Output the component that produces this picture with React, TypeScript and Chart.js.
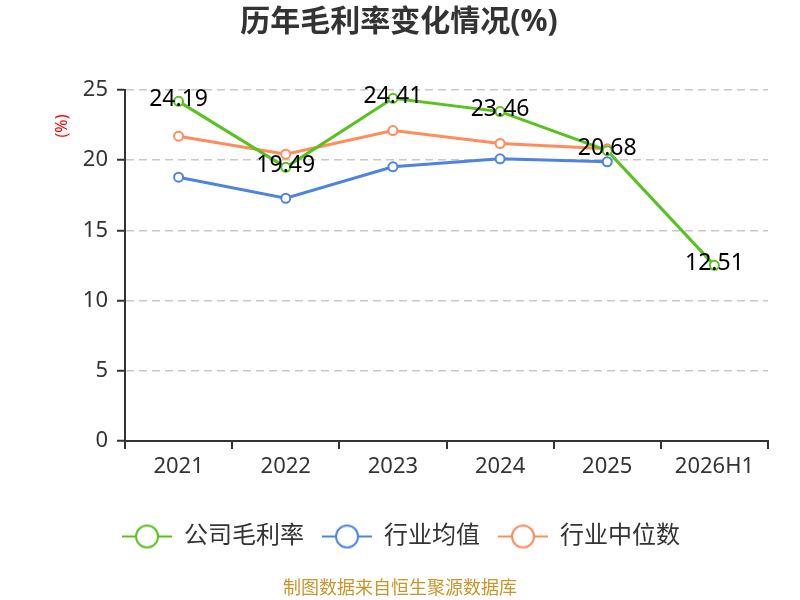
import { useEffect, useRef } from "react"
import { Chart, registerables } from "chart.js"

Chart.register(...registerables)

const years = ["2021", "2022", "2023", "2024", "2025", "2026H1"]
const companyMargin = [24.19, 19.49, 24.41, 23.46, 20.68, 12.51]
const industryAvg = [18.79, 17.29, 19.53, 20.1, 19.89, null]
const industryMedian = [21.71, 20.43, 22.11, 21.19, 20.81, null]
const yTicks = [0, 5, 10, 15, 20, 25]

const GREEN = "#5ac21f"
const BLUE = "#4f83e2"
const ORANGE = "#ff8c5a"
const FONT = "'Noto Sans', 'Noto Sans CJK SC', sans-serif"

// legend marker: short line with a hollow circle in the middle
function legendMarker(color: string) {
  const c = document.createElement("canvas")
  c.width = 50
  c.height = 26
  const g = c.getContext("2d")!
  g.strokeStyle = color
  g.lineWidth = 2
  g.beginPath()
  g.moveTo(0, 13)
  g.lineTo(50, 13)
  g.stroke()
  g.beginPath()
  g.arc(25, 13, 11, 0, Math.PI * 2)
  g.fillStyle = "#fff"
  g.fill()
  g.stroke()
  return c
}

const decorations = {
  id: "decorations",
  afterLayout(chart: Chart) {
    // nudge the legend so it sits centred like the original
    if (chart.legend) chart.legend.left += 34
  },
  afterDatasetsDraw(chart: Chart) {
    const ctx = chart.ctx
    // value labels on the company series
    const meta = chart.getDatasetMeta(0)
    ctx.save()
    ctx.font = `23px ${FONT}`
    ctx.fillStyle = "#000"
    ctx.textAlign = "center"
    ctx.textBaseline = "middle"
    meta.data.forEach((pt, i) => {
      ctx.fillText(companyMargin[i].toFixed(2), pt.x, pt.y - 2)
    })
    ctx.restore()
  },
  afterDraw(chart: Chart) {
    const ctx = chart.ctx
    ctx.save()
    ctx.textAlign = "center"
    ctx.textBaseline = "middle"
    ctx.fillStyle = "#333"
    ctx.font = `bold 30px ${FONT}`
    ctx.fillText("历年毛利率变化情况(%)", 399, 22)

    ctx.fillStyle = "#c8952a"
    ctx.font = `18px ${FONT}`
    ctx.fillText("制图数据来自恒生聚源数据库", 400, 589)

    ctx.translate(62, 126)
    ctx.rotate(-Math.PI / 2)
    ctx.fillStyle = "#ff0000"
    ctx.font = `16px ${FONT}`
    ctx.fillText("(%)", 0, 0)
    ctx.restore()
  },
}

export default function App() {
  const chartRef = useRef<HTMLCanvasElement>(null)
  const chartInstance = useRef<Chart | null>(null)

  useEffect(() => {
    document.body.style.margin = "0"
    if (!chartRef.current) return
    if (chartInstance.current) chartInstance.current.destroy()

    const markers = [legendMarker(GREEN), legendMarker(BLUE), legendMarker(ORANGE)]
    const point = (color: string) => ({
      borderColor: color,
      backgroundColor: color,
      pointBackgroundColor: "#fff",
      pointBorderColor: color,
      pointRadius: 4.5,
      pointBorderWidth: 2,
      borderWidth: 3,
      tension: 0,
    })

    chartInstance.current = new Chart(chartRef.current, {
      type: "line",
      data: {
        labels: years,
        datasets: [
          { label: "公司毛利率", data: companyMargin, ...point(GREEN) },
          { label: "行业均值", data: industryAvg, ...point(BLUE) },
          { label: "行业中位数", data: industryMedian, ...point(ORANGE) },
        ],
      },
      options: {
        animation: false,
        responsive: false,
        maintainAspectRatio: false,
        layout: { padding: { top: 90, right: 32, left: 0, bottom: 41.5 } },
        scales: {
          x: {
            offset: true,
            afterFit: (scale) => {
              scale.height = 65.5
            },
            grid: {
              offset: true,
              drawOnChartArea: false,
              drawTicks: true,
              tickLength: 8,
              tickColor: "#333",
              lineWidth: 2,
            },
            border: { color: "#333", width: 2 },
            ticks: {
              color: "#333",
              padding: 5,
              font: { size: 22, family: FONT },
            },
          },
          y: {
            min: 0,
            max: 25,
            afterFit: (scale) => {
              scale.width = 125
            },
            afterBuildTicks: (scale) => {
              scale.ticks = yTicks.map((v) => ({ value: v }))
            },
            grid: {
              color: "#c8c8c8",
              lineWidth: 1.5,
              tickLength: 8,
              tickColor: "#333",
              tickWidth: 2,
            },
            border: { color: "#333", width: 2, dash: [8, 5] },
            ticks: {
              color: "#333",
              padding: 9,
              font: { size: 22, family: FONT },
            },
          },
        },
        plugins: {
          title: { display: false },
          tooltip: { enabled: false },
          legend: {
            position: "bottom",
            labels: {
              usePointStyle: true,
              pointStyleWidth: 50,
              padding: 18,
              color: "#333",
              font: { size: 24, family: FONT },
              generateLabels: (chart) =>
                Chart.defaults.plugins.legend.labels
                  .generateLabels(chart)
                  .map((item, i) => ({ ...item, pointStyle: markers[i] })),
            },
          },
        },
      },
      plugins: [decorations],
    })

    return () => {
      if (chartInstance.current) {
        chartInstance.current.destroy()
        chartInstance.current = null
      }
    }
  }, [])

  return (
    <div style={{ width: 800, height: 600 }}>
      <canvas ref={chartRef} width={800} height={600} />
    </div>
  )
}
